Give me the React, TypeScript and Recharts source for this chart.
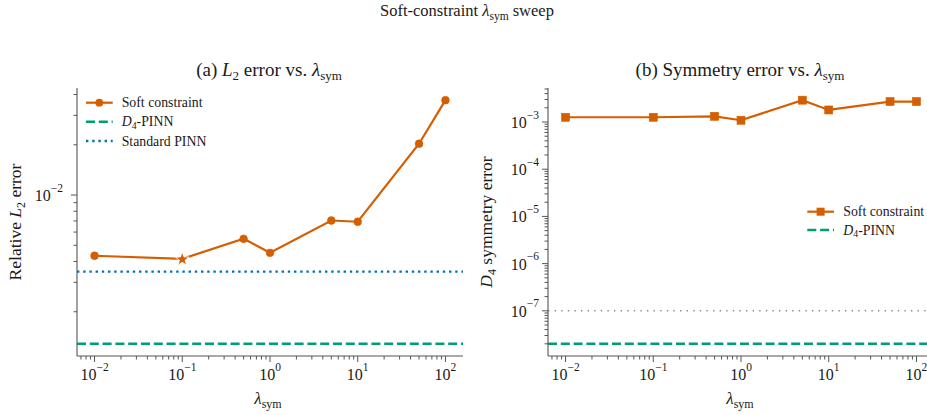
import React from 'react';
import { LineChart, Line, XAxis, YAxis, ReferenceLine } from 'recharts';

// ---------------- data ----------------
const lambdaValues = [0.01, 0.1, 0.5, 1, 5, 10, 50, 100];
const softL2Error = [4.33e-3, 4.15e-3, 5.47e-3, 4.51e-3, 7.04e-3, 6.92e-3, 2.03e-2, 3.7e-2];
const softSymError = [1.26e-3, 1.26e-3, 1.32e-3, 1.09e-3, 2.9e-3, 1.8e-3, 2.71e-3, 2.71e-3];
const d4PinnL2 = 1.285e-3;
const standardPinnL2 = 3.48e-3;
const d4PinnSym = 2e-8;
const symThreshold = 1e-7;
const bestLambda = 0.1;

const seriesLabels = ['Soft constraint', 'PINN', 'Standard PINN'];

const ORANGE = '#D55E00';
const GREEN = '#009E73';
const BLUE = '#0072B2';
const SPINE = '#555555';
const TEXT = '#1a1a1a';
const FONT = '"Liberation Serif", "Times New Roman", serif';

const l2Data = lambdaValues.map((x, i) => ({ x, y: softL2Error[i] }));
const symData = lambdaValues.map((x, i) => ({ x, y: softSymError[i] }));

// log domain with matplotlib-like 5% margins
function logDomain(lo: number, hi: number): [number, number] {
  const a = Math.log10(lo);
  const b = Math.log10(hi);
  const m = (b - a) * 0.05;
  return [Math.pow(10, a - m), Math.pow(10, b + m)];
}
const xDomain = logDomain(0.01, 100);
const leftYDomain = logDomain(Math.min(d4PinnL2, ...softL2Error), Math.max(...softL2Error));
const rightYDomain = logDomain(Math.min(d4PinnSym, ...softSymError), Math.max(...softSymError));

function logTicks(lo: number, hi: number): number[] {
  const out: number[] = [];
  for (let e = Math.floor(Math.log10(lo)); e <= Math.ceil(Math.log10(hi)); e++) {
    for (let m = 1; m < 10; m++) {
      const v = m * Math.pow(10, e);
      if (v >= lo && v <= hi) out.push(v);
    }
  }
  return out;
}
const xTicks = logTicks(xDomain[0], xDomain[1]);
const leftYTicks = logTicks(leftYDomain[0], leftYDomain[1]);
const rightYTicks = logTicks(rightYDomain[0], rightYDomain[1]);

const isMajor = (v: number) => {
  const l = Math.log10(v);
  return Math.abs(l - Math.round(l)) < 1e-9;
};
const expText = (v: number) => {
  const e = Math.round(Math.log10(v));
  return e < 0 ? '\u2212' + Math.abs(e) : String(e);
};

// ---------------- ticks ----------------
const XTick = (props: any) => {
  const { x, y, payload } = props;
  const v = payload.value;
  const major = isMajor(v);
  return (
    <g>
      <line x1={x} x2={x} y1={y} y2={y + (major ? 6 : 3.5)} stroke={SPINE} strokeWidth={1} />
      {major && (
        <text x={x} y={y + 24} textAnchor="middle" fontFamily={FONT} fontSize={16} fill={TEXT}>
          10
          <tspan fontSize={11.5} dy={-9.5}>{expText(v)}</tspan>
        </text>
      )}
    </g>
  );
};

const makeYTick = (gap: number) => (props: any) => {
  const { x, y, payload } = props;
  const v = payload.value;
  const major = isMajor(v);
  return (
    <g>
      <line x1={x - (major ? 6 : 3.5)} x2={x} y1={y} y2={y} stroke={SPINE} strokeWidth={1} />
      {major && (
        <text x={x - gap} y={y + 6} textAnchor="end" fontFamily={FONT} fontSize={16} fill={TEXT}>
          10
          <tspan fontSize={11.5} dy={-9.5}>{expText(v)}</tspan>
        </text>
      )}
    </g>
  );
};
const LeftYTick = makeYTick(14);
const RightYTick = makeYTick(9);

// ---------------- markers ----------------
function starPath(cx: number, cy: number, ro: number, ri: number) {
  let d = '';
  for (let i = 0; i < 10; i++) {
    const a = (-90 + i * 36) * Math.PI / 180;
    const r = i % 2 === 0 ? ro : ri;
    d += (i === 0 ? 'M' : 'L') + (cx + r * Math.cos(a)).toFixed(2) + ',' + (cy + r * Math.sin(a)).toFixed(2);
  }
  return d + 'Z';
}

const CircleOrStar = (props: any) => {
  const { cx, cy, payload, index } = props;
  if (cx == null || cy == null) return <g key={index} />;
  if (payload.x === bestLambda) {
    return <path key={index} d={starPath(cx, cy + 0.5, 7.2, 3.0)} fill={ORANGE} stroke="#ffffff" strokeWidth={0.9} />;
  }
  return <circle key={index} cx={cx} cy={cy} r={3.9} fill={ORANGE} stroke={ORANGE} strokeWidth={0.5} />;
};

const SquareDot = (props: any) => {
  const { cx, cy, index } = props;
  if (cx == null || cy == null) return <g key={index} />;
  return <rect key={index} x={cx - 4} y={cy - 4} width={8} height={8} fill={ORANGE} stroke={ORANGE} strokeWidth={0.6} />;
};

// ---------------- App ----------------
export default function App() {
  const axisLine = { stroke: SPINE, strokeWidth: 1.1 };
  return (
    <div style={{ position: 'fixed', left: 0, top: 0, width: 927, height: 415, overflow: 'hidden', background: '#fff' }}>
      <div style={{ position: 'absolute', left: 0, top: 0 }}>
        <LineChart width={470} height={415} data={l2Data} margin={{ top: 88, right: 7, bottom: 29, left: 17 }}>
          <XAxis dataKey="x" type="number" scale="log" domain={xDomain} allowDataOverflow ticks={xTicks}
            interval={0} tickSize={0} tickMargin={0} height={30} axisLine={axisLine} tickLine={false} tick={<XTick />} />
          <YAxis dataKey="y" type="number" scale="log" domain={leftYDomain} allowDataOverflow ticks={leftYTicks}
            interval={0} tickSize={0} tickMargin={0} width={60} axisLine={axisLine} tickLine={false} tick={<LeftYTick />} />
          <ReferenceLine y={standardPinnL2} stroke={BLUE} strokeWidth={2.4} strokeDasharray="2.4 3.8" />
          <ReferenceLine y={d4PinnL2} stroke={GREEN} strokeWidth={2.5} strokeDasharray="9 3.8" />
          <Line dataKey="y" stroke={ORANGE} strokeWidth={2.2} dot={CircleOrStar} activeDot={false} isAnimationActive={false} />
        </LineChart>
      </div>
      <div style={{ position: 'absolute', left: 470, top: 0 }}>
        <LineChart width={470} height={415} data={symData} margin={{ top: 88, right: 6, bottom: 29, left: 18 }}>
          <XAxis dataKey="x" type="number" scale="log" domain={xDomain} allowDataOverflow ticks={xTicks}
            interval={0} tickSize={0} tickMargin={0} height={30} axisLine={axisLine} tickLine={false} tick={<XTick />} />
          <YAxis dataKey="y" type="number" scale="log" domain={rightYDomain} allowDataOverflow ticks={rightYTicks}
            interval={0} tickSize={0} tickMargin={0} width={60} axisLine={axisLine} tickLine={false} tick={<RightYTick />} />
          <ReferenceLine y={symThreshold} stroke="#8c8c8c" strokeWidth={1.4} strokeDasharray="1.4 5.2" />
          <ReferenceLine y={d4PinnSym} stroke={GREEN} strokeWidth={2.5} strokeDasharray="9 3.8" />
          <Line dataKey="y" stroke={ORANGE} strokeWidth={2.2} dot={SquareDot} activeDot={false} isAnimationActive={false} />
        </LineChart>
      </div>
      <svg width={927} height={415} style={{ position: 'absolute', left: 0, top: 0, pointerEvents: 'none' }}
        fontFamily={FONT} fill={TEXT}>
        {/* suptitle */}
        <text x={467} y={16} textAnchor="middle" fontSize={16.5}>
          Soft-constraint <tspan fontStyle="italic">λ</tspan>
          <tspan fontSize={11.5} dy={3.5}>sym</tspan>
          <tspan dy={-3.5}> sweep</tspan>
        </text>
        {/* panel titles */}
        <text x={269} y={76} textAnchor="middle" fontSize={19}>
          (a) <tspan fontStyle="italic">L</tspan>
          <tspan fontSize={13} dy={4}>2</tspan>
          <tspan dy={-4}> error vs. </tspan>
          <tspan fontStyle="italic">λ</tspan>
          <tspan fontSize={13} dy={4}>sym</tspan>
        </text>
        <text x={740} y={76} textAnchor="middle" fontSize={19}>
          (b) Symmetry error vs. <tspan fontStyle="italic">λ</tspan>
          <tspan fontSize={13} dy={4}>sym</tspan>
        </text>
        {/* x labels */}
        <text x={268} y={404} textAnchor="middle" fontSize={17}>
          <tspan fontStyle="italic">λ</tspan>
          <tspan fontSize={12} dy={3.5}>sym</tspan>
        </text>
        <text x={740} y={404} textAnchor="middle" fontSize={17}>
          <tspan fontStyle="italic">λ</tspan>
          <tspan fontSize={12} dy={3.5}>sym</tspan>
        </text>
        {/* y labels */}
        <text transform="translate(21,222) rotate(-90)" textAnchor="middle" fontSize={17.5}>
          Relative <tspan fontStyle="italic">L</tspan>
          <tspan fontSize={12} dy={3.5}>2</tspan>
          <tspan dy={-3.5}> error</tspan>
        </text>
        <text transform="translate(492,222) rotate(-90)" textAnchor="middle" fontSize={17.5}>
          <tspan fontStyle="italic">D</tspan>
          <tspan fontSize={12} dy={3.5}>4</tspan>
          <tspan dy={-3.5}> symmetry error</tspan>
        </text>
        {/* left legend */}
        <g fontSize={13.8}>
          <line x1={86} x2={112.7} y1={102.7} y2={102.7} stroke={ORANGE} strokeWidth={2.2} />
          <circle cx={99.3} cy={102.7} r={3.9} fill={ORANGE} />
          <text x={121.7} y={107.4}>{seriesLabels[0]}</text>
          <line x1={86} x2={112.7} y1={121.7} y2={121.7} stroke={GREEN} strokeWidth={2.5} strokeDasharray="9 3.8" />
          <text x={121.7} y={126.4}>
            <tspan fontStyle="italic">D</tspan>
            <tspan fontSize={9.8} dy={2.5}>4</tspan>
            <tspan dy={-2.5}>-{seriesLabels[1]}</tspan>
          </text>
          <line x1={86} x2={112.7} y1={141} y2={141} stroke={BLUE} strokeWidth={2.4} strokeDasharray="2.4 3.8" />
          <text x={121.7} y={145.7}>{seriesLabels[2]}</text>
        </g>
        {/* right legend */}
        <g fontSize={13.8}>
          <line x1={807.3} x2={834} y1={211.7} y2={211.7} stroke={ORANGE} strokeWidth={2.2} />
          <rect x={816.6} y={207.7} width={8} height={8} fill={ORANGE} />
          <text x={843.3} y={216.4}>{seriesLabels[0]}</text>
          <line x1={807.3} x2={834} y1={230} y2={230} stroke={GREEN} strokeWidth={2.5} strokeDasharray="9 3.8" />
          <text x={843.3} y={234.7}>
            <tspan fontStyle="italic">D</tspan>
            <tspan fontSize={9.8} dy={2.5}>4</tspan>
            <tspan dy={-2.5}>-{seriesLabels[1]}</tspan>
          </text>
        </g>
      </svg>
    </div>
  );
}
